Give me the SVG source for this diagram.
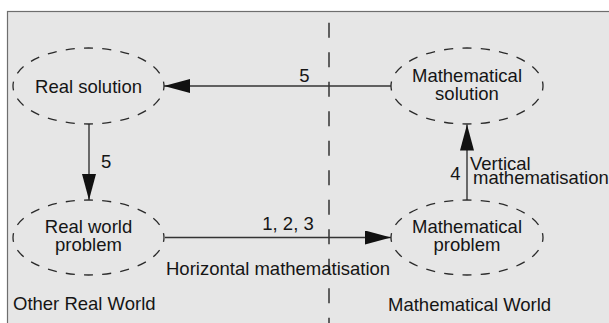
<svg xmlns="http://www.w3.org/2000/svg" width="609" height="323" viewBox="0 0 609 323">
  <style>
    .frame { fill: #e6e6e6; stroke: #6e6e6e; stroke-width: 1.2; }
    .node { fill: none; stroke: #2a2a2a; stroke-width: 1.3; stroke-dasharray: 9 9; stroke-dashoffset: 4.5; }
    .edge { fill: none; stroke: #333333; stroke-width: 1.4; }
    .divider { fill: none; stroke: #333333; stroke-width: 1.5; stroke-dasharray: 15 14.5; }
    text { font-family: "Liberation Sans", Arial, Helvetica, sans-serif; font-size: 18.5px; fill: #151515; }
    .mid { text-anchor: middle; }
  </style>
  <defs>
    <marker id="arrow" viewBox="0 0 26 14" refX="26" refY="7" markerWidth="26" markerHeight="14" markerUnits="userSpaceOnUse" orient="auto">
      <path d="M0,0 L26,7 L0,14 Z" fill="#111111"/>
    </marker>
  </defs>

  <rect class="frame" x="7.5" y="11.5" width="620" height="330"/>

  <g id="regions">
    <line class="divider" x1="329" y1="22.7" x2="329" y2="323"/>
    <text x="13" y="310">Other Real World</text>
    <text x="388" y="310.5">Mathematical World</text>
  </g>

  <g id="connectors">
    <path class="edge" d="M391,86 L164,86" marker-end="url(#arrow)"/>
    <text class="mid" x="304.5" y="82">5</text>
    <path class="edge" d="M89,124 L89,200" marker-end="url(#arrow)"/>
    <text x="101" y="168">5</text>
    <path class="edge" d="M165,237.5 L391,237.5" marker-end="url(#arrow)"/>
    <text class="mid" x="288" y="230">1, 2, 3</text>
    <text x="166" y="275">Horizontal mathematisation</text>
    <path class="edge" d="M467,200 L467,124.5" marker-end="url(#arrow)"/>
    <text class="mid" x="455.5" y="180">4</text>
    <text x="470" y="169.5">Vertical</text>
    <text x="473" y="184">mathematisation</text>
  </g>

  <g id="real-solution">
    <path class="node" pathLength="360" d="M164,86 A75.5,38 0 1 1 13,86 A75.5,38 0 1 1 164,86 Z"/>
    <text class="mid" x="88.5" y="93">Real solution</text>
  </g>

  <g id="mathematical-solution">
    <path class="node" pathLength="360" d="M543,86 A76,38 0 1 1 391,86 A76,38 0 1 1 543,86 Z"/>
    <text class="mid" x="467" y="82">Mathematical</text>
    <text class="mid" x="467" y="100">solution</text>
  </g>

  <g id="real-world-problem">
    <path class="node" pathLength="360" d="M164,237.5 A75.5,37.5 0 1 1 13,237.5 A75.5,37.5 0 1 1 164,237.5 Z"/>
    <text class="mid" x="88.5" y="232.5">Real world</text>
    <text class="mid" x="88.5" y="250.5">problem</text>
  </g>

  <g id="mathematical-problem">
    <path class="node" pathLength="360" d="M543,237.5 A76,37.5 0 1 1 391,237.5 A76,37.5 0 1 1 543,237.5 Z"/>
    <text class="mid" x="467" y="232.5">Mathematical</text>
    <text class="mid" x="467" y="250.5">problem</text>
  </g>
</svg>
